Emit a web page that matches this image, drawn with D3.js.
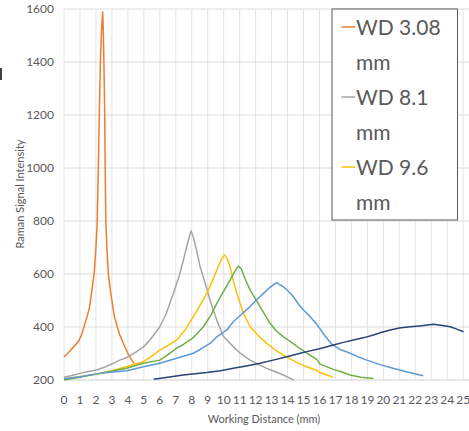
<!DOCTYPE html>
<html>
<head>
<meta charset="utf-8">
<script src="https://cdn.jsdelivr.net/npm/d3@7"></script>
<style>
  body { margin: 0; background: #fff; }
  text { font-family: Lato, "Open Sans", sans-serif; fill: #595959; }
</style>
</head>
<body>
<div id="chart"></div>
<script>
// series values: [working distance (mm), intensity]
const wd308 = [[0,287],[0.3,305],[0.6,325],[0.9,345],[1.1,370],[1.25,400],[1.45,440],[1.6,475],[1.75,540],[1.9,610],[2.0,700],[2.08,800],[2.15,1000],[2.21,1200],[2.28,1400],[2.35,1520],[2.42,1590],[2.46,1520],[2.5,1400],[2.55,1200],[2.58,1000],[2.62,800],[2.7,680],[2.78,600],[2.9,540],[3.0,500],[3.15,440],[3.34,400],[3.5,370],[3.72,338],[4.0,300],[4.2,280],[4.39,263]];
const wd81 = [[0,210],[0.5,217],[1.0,225],[1.5,232],[2.05,238],[2.6,250],[3.09,263],[3.5,275],[3.93,285],[4.5,305],[4.97,325],[5.4,352],[5.8,385],[6.0,401],[6.4,450],[6.85,527],[7.2,590],[7.48,653],[7.75,720],[7.96,763],[8.1,740],[8.3,690],[8.52,628],[8.94,545],[9.15,500],[9.57,425],[9.98,365],[10.6,326],[11.03,301],[11.65,275],[12.2,258],[12.7,244],[13.2,232],[13.74,219],[14.1,208],[14.4,200]];
const wd96 = [[0,205],[1,212],[2.25,225],[3,235],[3.9,250],[4.97,269],[5.5,290],[6.0,313],[6.5,330],[7.06,351],[7.6,390],[8.1,439],[8.5,480],[8.94,527],[9.3,575],[9.57,615],[9.85,655],[10.05,672],[10.2,660],[10.4,628],[10.6,575],[10.82,527],[11.24,452],[11.65,401],[12.2,365],[12.7,338],[13.2,315],[13.74,294],[14.3,275],[14.79,260],[15.3,248],[15.83,236],[16.04,228],[16.5,218],[16.87,210]];
const series4 = [[0,200],[1,210],[2.25,225],[3.1,235],[3.93,244],[4.97,263],[6.0,275],[6.5,295],[7.06,320],[7.5,335],[8.1,360],[8.73,401],[9.2,445],[9.57,489],[10.0,535],[10.4,577],[10.7,610],[10.92,630],[11.1,620],[11.35,580],[11.65,540],[12.28,477],[12.9,414],[13.3,385],[13.74,363],[14.3,340],[14.79,318],[15.3,298],[15.83,278],[16.04,260],[16.87,240],[17.4,230],[17.92,219],[18.6,210],[19.38,206]];
const series5 = [[0,205],[1,212],[2.25,225],[3.1,230],[3.93,235],[4.97,250],[6.0,263],[7.06,282],[8.1,301],[8.6,318],[9.15,338],[9.57,363],[10.2,389],[10.6,420],[11.1,447],[11.65,477],[12.1,505],[12.49,527],[12.9,550],[13.33,567],[13.5,560],[13.74,552],[14.05,535],[14.37,514],[14.7,485],[15.0,464],[15.4,440],[15.83,410],[16.3,370],[16.77,335],[17.3,315],[17.92,301],[18.4,288],[18.97,275],[19.8,258],[20.6,244],[21.5,230],[22.5,216]];
const series6 = [[5.62,203],[6.5,210],[7.47,219],[8.2,224],[8.94,228],[9.8,235],[10.6,244],[11.5,254],[12.28,263],[13.1,275],[13.95,288],[14.79,301],[15.2,307],[16.0,318],[16.87,332],[17.5,342],[18.13,351],[18.8,360],[19.38,370],[19.9,380],[20.43,389],[21.0,396],[21.68,401],[22.4,405],[23.14,410],[23.7,406],[24.19,401],[24.6,392],[25.02,382]];

const seriesList = [wd308, wd81, wd96, series4, series5, series6];
const colors = ["#ED7D31", "#A5A5A5", "#FFC000", "#70AD47", "#5B9BD5", "#264478"];
const legendLines = [["WD 3.08", "mm"], ["WD 8.1", "mm"], ["WD 9.6", "mm"]];
const xTicks = d3.range(0, 26);
const yTicks = [200, 400, 600, 800, 1000, 1200, 1400, 1600];

const W = 469, H = 431;
const svg = d3.select("#chart").append("svg")
  .attr("width", W)
  .attr("height", H);

const x = d3.scaleLinear().domain([0, 25.3]).range([64, 468]);
const y = d3.scaleLinear().domain([200, 1600]).range([380, 9]);

// grid
svg.append("g").selectAll("line").data(xTicks).enter().append("line")
  .attr("x1", d => x(d)).attr("x2", d => x(d))
  .attr("y1", y(1600)).attr("y2", y(200))
  .attr("stroke", "#e4e4e4").attr("stroke-width", 1);

svg.append("g").selectAll("line").data(yTicks).enter().append("line")
  .attr("x1", x(0)).attr("x2", W)
  .attr("y1", d => y(d)).attr("y2", d => y(d))
  .attr("stroke", d => d === 200 ? "#d0d0d0" : "#dcdcdc").attr("stroke-width", 1);

// tick labels
svg.append("g").selectAll("text").data(yTicks).enter().append("text")
  .attr("x", 54).attr("y", d => y(d)).attr("dy", "0.35em")
  .attr("text-anchor", "end").style("font-size", "12px")
  .text(d => d);

svg.append("g").selectAll("text").data(xTicks).enter().append("text")
  .attr("x", d => x(d)).attr("y", 404)
  .attr("text-anchor", "middle").style("font-size", "12px")
  .text(d => d);

// axis titles
svg.append("text")
  .attr("transform", "translate(24,194) rotate(-90)")
  .attr("text-anchor", "middle").style("font-size", "11px")
  .text("Raman Signal Intensity");

svg.append("text")
  .attr("x", 264).attr("y", 423)
  .attr("text-anchor", "middle").style("font-size", "11px")
  .text("Working Distance (mm)");

// leftover of a cropped title
svg.append("line")
  .attr("x1", 1).attr("x2", 1).attr("y1", 68).attr("y2", 80)
  .attr("stroke", "#404040").attr("stroke-width", 2);

// lines
const line = d3.line().x(d => x(d[0])).y(d => y(d[1]));
svg.append("g").selectAll("path").data(seriesList).enter().append("path")
  .attr("d", line)
  .attr("fill", "none")
  .attr("stroke", (d, i) => colors[i])
  .attr("stroke-width", 1.5)
  .attr("stroke-linejoin", "round");

// legend
const lg = svg.append("g");
lg.append("rect")
  .attr("x", 332).attr("y", 9).attr("width", 125.5).attr("height", 211)
  .attr("fill", "#fff").attr("stroke", "#595959").attr("stroke-width", 1);

legendLines.forEach((lines, i) => {
  const base = 35 + i * 70;
  lg.append("line")
    .attr("x1", 341.5).attr("x2", 355)
    .attr("y1", base - 8).attr("y2", base - 8)
    .attr("stroke", colors[i]).attr("stroke-width", 1.5);
  lines.forEach((t, j) => {
    lg.append("text")
      .attr("x", 356).attr("y", base + j * 35)
      .style("font-size", "21px")
      .text(t);
  });
});
</script>
</body>
</html>
